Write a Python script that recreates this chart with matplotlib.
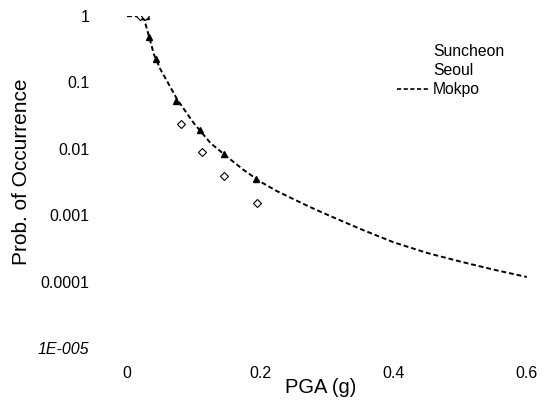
import matplotlib.pyplot as plt
from matplotlib.lines import Line2D
from matplotlib.ticker import FixedLocator, FixedFormatter

plt.rcParams['font.family'] = ['Liberation Sans', 'DejaVu Sans']

# ---------------------------------------------------------------------------
# Data
# ---------------------------------------------------------------------------
mokpo_pga = [0.0, 0.02, 0.025, 0.03, 0.035, 0.04, 0.05, 0.06, 0.075, 0.09,
             0.1, 0.11, 0.125, 0.15, 0.175, 0.2, 0.225, 0.25, 0.275, 0.3,
             0.35, 0.4, 0.45, 0.5, 0.55, 0.6]
mokpo_prob = [1.0, 1.0, 0.955, 0.63, 0.42, 0.27, 0.158, 0.105, 0.056, 0.034,
              0.0245, 0.0186, 0.0123, 0.0076, 0.0048, 0.0032, 0.0023,
              0.00174, 0.00132, 0.00102, 0.00062, 0.00039, 0.00027,
              0.0002, 0.000151, 0.000117]

suncheon_pga = [0.022, 0.028, 0.033, 0.043, 0.074, 0.11, 0.145, 0.193]
suncheon_prob = [1.0, 1.0, 0.48, 0.23, 0.053, 0.019, 0.0085, 0.0035]

seoul_pga = [0.02, 0.027, 0.081, 0.112, 0.145, 0.195]
seoul_prob = [1.0, 1.0, 0.024, 0.009, 0.0039, 0.0015]

x_ticks = [0, 0.2, 0.4, 0.6]
x_labels = ["0", "0.2", "0.4", "0.6"]
y_ticks = [1, 0.1, 0.01, 0.001, 0.0001, 0.00001]
y_labels = ["1", "0.1", "0.01", "0.001", "0.0001", "1E-005"]

# ---------------------------------------------------------------------------
# Figure
# ---------------------------------------------------------------------------
fig = plt.figure(figsize=(5.5, 4.04), dpi=100)
ax = fig.add_axes([0.231, 0.139, 0.727, 0.821])

ax.plot(mokpo_pga, mokpo_prob, color="black", lw=1.4, dashes=(2.5, 1.5))
ax.plot(suncheon_pga, suncheon_prob, ls="none", marker="^", ms=4.5,
        color="black")
ax.plot(seoul_pga, seoul_prob, ls="none", marker="D", ms=4.5,
        mfc="white", mec="black", mew=0.8)

ax.set_yscale("log")
ax.set_xlim(0, 0.6)
ax.set_ylim(1e-5, 1)

ax.xaxis.set_major_locator(FixedLocator(x_ticks))
ax.xaxis.set_major_formatter(FixedFormatter(x_labels))
ax.yaxis.set_major_locator(FixedLocator(y_ticks))
ax.yaxis.set_major_formatter(FixedFormatter(y_labels))
ax.yaxis.set_minor_locator(FixedLocator([]))
ax.tick_params(axis="x", length=0, pad=13, labelsize=11.5)
ax.tick_params(axis="y", length=0, pad=27, labelsize=11.5)
ax.get_yticklabels()[-1].set_style("italic")

for s in ax.spines.values():
    s.set_visible(False)

ax.set_xlabel("PGA (g)", fontsize=14.5)
ax.set_ylabel("Prob. of Occurrence", fontsize=15)
ax.xaxis.set_label_coords(0.485, -0.09)
ax.yaxis.set_label_coords(-0.24, 0.53)

handles = [Line2D([], [], ls="none"),
           Line2D([], [], ls="none"),
           Line2D([], [], color="black", lw=1.2, dashes=(2.5, 1.5))]
ax.legend(handles, ["Suncheon", "Seoul", "Mokpo"], frameon=False,
          fontsize=11.3, loc="upper left", bbox_to_anchor=(0.64, 0.96),
          handlelength=2.0, handletextpad=0.3, labelspacing=0.28)

fig.savefig("out.png", dpi=100)
